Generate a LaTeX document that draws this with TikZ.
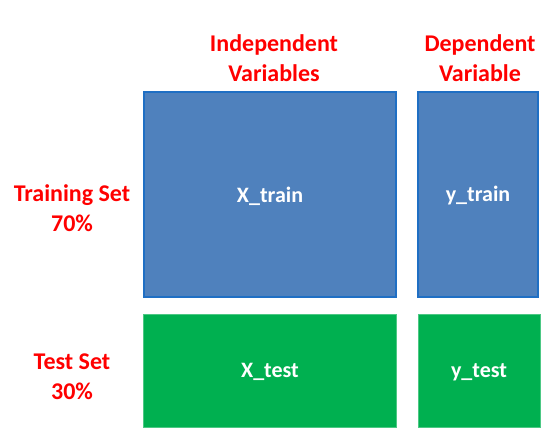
\documentclass[tikz,border=0pt]{standalone}
\usepackage{fontspec}
\setmainfont{Carlito}
\definecolor{bluefill}{HTML}{4F81BD}
\definecolor{blueedge}{HTML}{1F6FC4}
\definecolor{greenfill}{HTML}{00B050}
\definecolor{labelred}{HTML}{FF0000}
\tikzset{
  trainbox/.style={draw=blueedge, line width=2pt, fill=bluefill},
  testbox/.style={draw=greenfill!70!white, line width=0.6pt, fill=greenfill},
  boxlabel/.style={text=white, font=\fontsize{22}{26}\selectfont\bfseries},
  headlabel/.style={text=labelred, align=center, font=\fontsize{24}{30}\selectfont\bfseries}
}
\begin{document}
\begin{tikzpicture}[x=1pt,y=-1pt]
\useasboundingbox (0,0) rectangle (551,439);
\fill[white] (0,0) rectangle (551,439);
\draw[trainbox] (144,92) rectangle (396,297);
\draw[trainbox] (418,92) rectangle (538,297);
\draw[testbox] (143.5,314) rectangle (396.5,427);
\draw[testbox] (418,314) rectangle (540,427);
\node[boxlabel] (xtrain) at (270,196) {X\_train};
\node[boxlabel] (ytrain) at (478,196) {y\_train};
\node[boxlabel] (xtest) at (270,372) {X\_test};
\node[boxlabel] (ytest) at (479,372) {y\_test};
\node[headlabel] (indep) at (274,58.5) {Independent\\Variables};
\node[headlabel] (dep) at (480,58.5) {Dependent\\Variable};
\node[headlabel] (trainset) at (72,208.5) {Training Set\\70\%};
\node[headlabel] (testset) at (72,376.5) {Test Set\\30\%};
\end{tikzpicture}
\end{document}
